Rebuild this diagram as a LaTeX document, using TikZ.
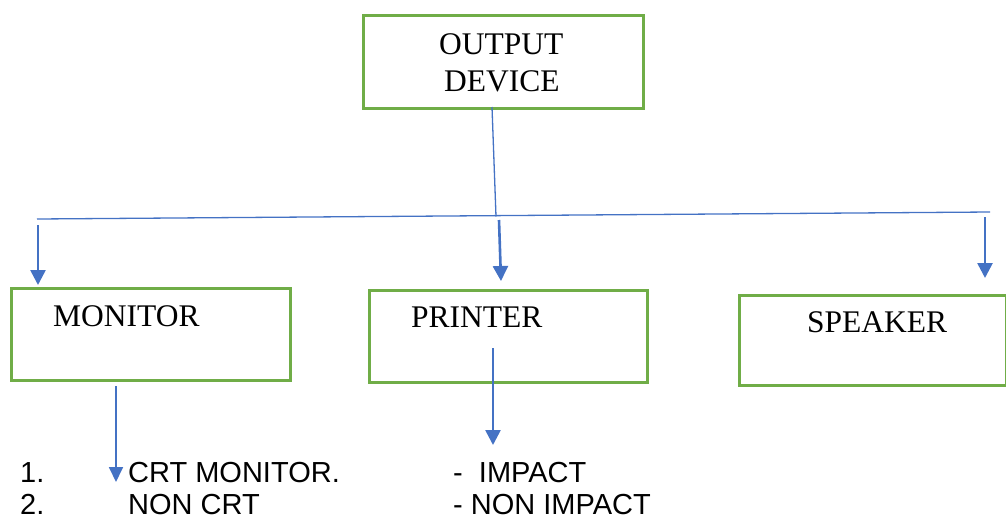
\documentclass[tikz,border=0pt]{standalone}
\usepackage{fontspec}
\setmainfont{Liberation Serif}
\newfontfamily\arialf{Liberation Sans}
\usetikzlibrary{arrows.meta}
\definecolor{boxgreen}{HTML}{70AD47}
\definecolor{linkblue}{HTML}{4472C4}
\begin{document}
\begin{tikzpicture}[x=1pt,y=-1pt,
  box/.style={draw=boxgreen,line width=3pt,rectangle,inner sep=0pt,anchor=north west},
  boxlabel/.style={anchor=base west,inner sep=0pt,font=\fontsize{31.5}{37}\selectfont},
  listtext/.style={anchor=base west,inner sep=0pt,font=\arialf\fontsize{29}{34}\selectfont},
  thinlink/.style={draw=linkblue,line width=1.3pt},
  arrowlink/.style={draw=linkblue,line width=2.6pt,-{Triangle[width=15pt,length=15pt]}},
  arrowthin/.style={draw=linkblue,line width=1.8pt,-{Triangle[width=14pt,length=15pt]}}]
\useasboundingbox (0,0) rectangle (1006,520);
% boxes
\node[box,minimum width=280pt,minimum height=93pt] (out) at (362,14) {};
\node[box,minimum width=279pt,minimum height=92pt] (mon) at (9.5,286.5) {};
\node[box,minimum width=278pt,minimum height=92pt] (prn) at (367.5,288.5) {};
\node[box,minimum width=267pt,minimum height=90pt] (spk) at (737.5,293.5) {};
% box labels
\node[boxlabel] (outa) at (439,54) {OUTPUT};
\node[boxlabel] (outb) at (444,91) {DEVICE};
\node[boxlabel] (monl) at (53,326) {MONITOR};
\node[boxlabel] (prnl) at (411,327) {PRINTER};
\node[boxlabel] (spkl) at (807,332) {SPEAKER};
% bus coordinates
\coordinate (outbot) at (492,107);
\coordinate (busmid) at (496,216.5);
\coordinate (busL) at (37,219);
\coordinate (busR) at (990,212);
\coordinate (aL) at (38,225);
\coordinate (aM) at (499,220);
\coordinate (aR) at (985,217);
\coordinate (tL) at (38,285);
\coordinate (tM) at (501,281);
\coordinate (tR) at (985,278);
\coordinate (monS) at (116,386);
\coordinate (monT) at (116,482);
\coordinate (prnS) at (493,348);
\coordinate (prnT) at (493,445);
% connectors
\draw[thinlink] (outbot) -- (busmid);
\draw[thinlink] (busL) -- (busR);
\draw[arrowlink] (aL) -- (tL);
\draw[arrowlink] (aM) -- (tM);
\draw[arrowlink] (aR) -- (tR);
\draw[arrowthin] (monS) -- (monT);
\draw[arrowlink] (prnS) -- (prnT);
% list texts
\node[listtext] (n1) at (20,482) {1.};
\node[listtext] (n2) at (20,514) {2.};
\node[listtext] (crt) at (128,482) {CRT MONITOR.};
\node[listtext] (ncrt) at (128,514) {NON CRT};
\node[listtext] (imp) at (453,482) {-\ \ IMPACT};
\node[listtext] (nimp) at (453,514) {- NON IMPACT};
\end{tikzpicture}
\end{document}
